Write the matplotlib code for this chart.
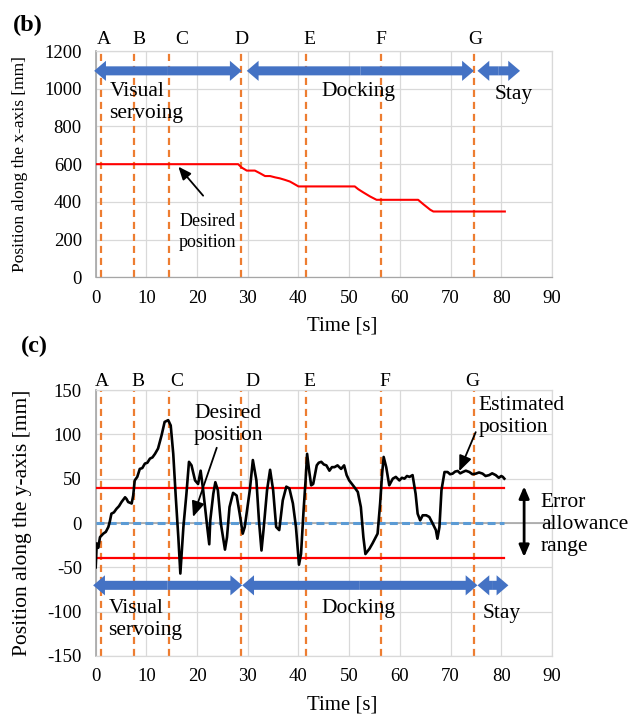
import matplotlib
matplotlib.use("Agg")
import matplotlib.pyplot as plt

plt.rcParams["font.family"] = ["Liberation Serif", "DejaVu Serif"]
plt.rcParams["axes.unicode_minus"] = False

# =====================================================
# Data
# =====================================================

event_labels = ["A", "B", "C", "D", "E", "F", "G"]
event_times = [1.0, 7.5, 14.4, 28.7, 41.4, 56.3, 74.6]

x_ticks = [0, 10, 20, 30, 40, 50, 60, 70, 80, 90]
b_y_ticks = [0, 200, 400, 600, 800, 1000, 1200]
c_y_ticks = [-150, -100, -50, 0, 50, 100, 150]

# (b) desired position along x
desired_x_t = [0, 26.5, 28.1, 28.8, 29.8, 31.4, 32.4, 33.4, 34.4, 35.4, 36.3,
               37.3, 38.3, 38.9, 40.0, 51.1, 51.8, 52.8, 54.1, 55.4, 63.6,
               64.6, 66.0, 66.6, 80.7]
desired_x_val = [600, 600, 600, 582, 566, 566, 552, 537, 537, 530, 525,
                 517, 508, 499, 482, 482, 467, 450, 429, 411, 411,
                 388, 358, 349, 349]

# (c) estimated position along y
est_y_t = [0.0, 0.1, 0.2, 0.5, 0.85, 1.5, 2.0, 2.5, 2.8, 3.1, 3.6, 4.1, 4.6,
           5.1, 5.8, 6.1, 6.4, 7.1, 7.4, 7.7, 8.2, 8.7, 9.2, 9.7, 10.2, 10.7,
           11.2, 11.7, 12.3, 13.0, 13.6, 14.3, 14.8, 15.3, 15.8, 16.3, 16.7,
           17.3, 17.9, 18.4, 18.9, 19.6, 20.2, 20.7, 21.2, 21.7, 22.0, 22.4,
           22.6, 23.2, 23.6, 24.1, 24.7, 25.5, 25.9, 26.4, 27.1, 27.8, 28.4,
           29.0, 29.4, 30.4, 31.0, 31.7, 32.2, 32.7, 33.1, 33.8, 34.4, 35.0,
           35.6, 36.2, 36.9, 37.6, 38.2, 38.9, 39.5, 40.1, 40.5, 41.0, 41.4,
           41.7, 42.1, 42.5, 42.9, 43.6, 44.0, 44.5, 45.0, 45.5, 46.1, 46.6,
           47.1, 47.7, 48.4, 49.0, 49.5, 50.0, 51.0, 51.7, 52.3, 52.8, 53.2,
           54.0, 54.6, 55.6, 56.1, 56.5, 56.8, 57.3, 57.9, 58.6, 59.2, 59.9,
           60.4, 60.9, 61.4, 61.9, 62.5, 63.1, 63.5, 64.0, 64.5, 65.2, 65.8,
           66.5, 67.1, 67.4, 67.8, 68.2, 68.8, 69.4, 69.9, 70.4, 70.9, 71.4,
           71.9, 72.4, 73.0, 73.7, 74.3, 75.0, 75.6, 76.3, 76.9, 77.6, 78.2,
           78.9, 79.5, 80.0, 80.3, 80.6]
est_y_val = [-50, -38, -23, -28, -16, -12, -10, -4.5, 2, 10.5, 12, 16, 19,
             23.7, 29, 27, 23.7, 22, 31, 48, 52, 61, 62, 67, 68, 72.6,
             74, 78, 84, 99, 114, 116, 110, 78, 29, -16, -57,
             -4.5, 33, 69, 65, 48, 44, 59, 37, 10.5, -4.5, -24,
             3, 33, 46, 37, -1, -30, -16, 18, 34, 31, 10.5,
             -12, -4.5, 37, 71, 48, 3, -31, -8, 37, 60, 37,
             -4.5, -8, 25.6, 41, 39, 22, -4.5, -47, -35, 14, 48,
             78, 59, 42.5, 44, 65, 68, 69, 66, 65, 59, 63,
             63, 65, 61, 65, 54, 48, 40.6, 35, 18, -16, -35,
             -29, -23, -12, 22, 56, 74.5, 63, 42.5, 50, 52, 48,
             51, 50, 53, 52, 54, 33, 10.5, 3, 8.7, 8.7, 6.8,
             -1, -8, -17.7, -4.5, 37, 57.5, 57.5, 55, 55.7, 58, 58.7,
             56, 57.5, 59, 57.5, 55, 55.7, 57, 55.7, 53, 54, 56,
             54, 51, 53, 52, 50]

allow_t = [0, 80.6]
allow_upper = [40, 40]
allow_lower = [-40, -40]
desired_y_val = [0, 0]

ORANGE = "#ED7D31"
BLUE = "#4472C4"
GRID = "#D9D9D9"
AXIS = "#A6A6A6"


# =====================================================
# Helpers
# =====================================================

def base_axes(ax, yticks):

    ax.set_xlim(0, 90)
    ax.set_ylim(yticks[0], yticks[-1])
    ax.set_xticks(x_ticks)
    ax.set_yticks(yticks)
    ax.tick_params(length=0, labelsize=13.5)
    ax.tick_params(axis="y", pad=10)
    ax.tick_params(axis="x", pad=9)
    ax.grid(True, color=GRID, lw=0.9)
    ax.set_axisbelow(True)
    for s in ax.spines.values():
        s.set_color(GRID)
        s.set_linewidth(0.9)
    ax.spines["left"].set_color(AXIS)
    ax.spines["left"].set_linewidth(1.2)


def event_lines(ax, label_x, label_y):

    for t in event_times:
        ax.axvline(t, color=ORANGE, lw=1.6, dashes=(3.2, 2.2), zorder=2)
    for lab, lx in zip(event_labels, label_x):
        ax.text(lx, label_y, lab, transform=ax.get_xaxis_transform(),
                ha="center", va="center", fontsize=14, clip_on=False)


def block_arrow(ax, x0, x1, y):

    mid = (x0 + x1) / 2
    style = "simple,head_length=8.5,head_width=14.5,tail_width=6.5"
    for end in (x0, x1):
        ax.annotate("", xy=(end, y), xytext=(mid, y),
                    arrowprops=dict(arrowstyle=style, color=BLUE,
                                    shrinkA=0, shrinkB=0, lw=0,
                                    mutation_scale=1),
                    annotation_clip=False, zorder=4)


# =====================================================
# (b) Position along x
# =====================================================

def panel_b(fig):

    ax = fig.add_axes([0.1495, 0.6127, 0.713, 0.316])
    base_axes(ax, b_y_ticks)
    ax.spines["bottom"].set_color(AXIS)

    event_lines(ax, [1.7, 8.6, 17.0, 28.8, 42.1, 56.2, 74.8], 1.05)

    ax.plot(desired_x_t, desired_x_val, color="red", lw=1.5, zorder=3)

    block_arrow(ax, -0.3, 28.8, 1095)
    block_arrow(ax, 29.8, 74.6, 1095)
    block_arrow(ax, 75.3, 83.7, 1095)

    ax.text(2.7, 928, "Visual\nservoing", fontsize=15.5, va="center",
            ha="left", linespacing=1.2)
    ax.text(51.8, 987, "Docking", fontsize=15.5, ha="center", va="center")
    ax.text(82.4, 972, "Stay", fontsize=15.5, ha="center", va="center")

    ax.annotate("Desired\nposition", xy=(16.3, 587), xytext=(22.1, 242),
                ha="center", va="center", fontsize=13, linespacing=1.3,
                arrowprops=dict(arrowstyle="-|>,head_length=0.6,head_width=0.25",
                                color="black", lw=1.3, shrinkA=0, shrinkB=0,
                                relpos=(0.42, 1.45)))

    ax.set_ylabel("Position along the x-axis [mm]", fontsize=12.5)
    ax.yaxis.set_label_coords(-0.148, 0.5)
    ax.set_xlabel("Time [s]", fontsize=15)
    ax.xaxis.set_label_coords(0.54, -0.215)
    ax.xaxis.label.set_va("center")

    fig.text(0.02, 0.965, "(b)", fontsize=17.5, fontweight="bold", va="center")


# =====================================================
# (c) Position along y
# =====================================================

def panel_c(fig):

    ax = fig.add_axes([0.1495, 0.0838, 0.713, 0.3715])
    base_axes(ax, c_y_ticks)
    ax.axhline(0, color=AXIS, lw=1.2, zorder=1)

    event_lines(ax, [1.2, 8.4, 15.9, 31.0, 42.1, 57.1, 74.3], 1.031)

    ax.plot(allow_t, allow_upper, color="red", lw=1.6, zorder=3)
    ax.plot(allow_t, allow_lower, color="red", lw=1.6, zorder=3)
    ax.plot(allow_t, desired_y_val, color="#5B9BD5", lw=2.2,
            dashes=(2.6, 1.4), zorder=3)
    ax.plot(est_y_t, est_y_val, color="black", lw=1.9, zorder=5)

    block_arrow(ax, -0.5, 28.9, -70.3)
    block_arrow(ax, 28.9, 75.3, -70.3)
    block_arrow(ax, 75.3, 81.4, -70.3)

    ax.text(2.5, -109, "Visual\nservoing", fontsize=15.5, va="center",
            ha="left", linespacing=1.2)
    ax.text(51.9, -96.6, "Docking", fontsize=15.5, ha="center", va="center")
    ax.text(80.1, -102, "Stay", fontsize=15.5, ha="center", va="center")

    ax.annotate("Desired\nposition", xy=(19.2, 6.8), xytext=(19.4, 111),
                ha="left", va="center", fontsize=15.5, linespacing=1.2,
                arrowprops=dict(arrowstyle="-|>,head_length=0.6,head_width=0.25",
                                color="black", lw=1.3, shrinkA=0, shrinkB=0,
                                relpos=(0.33, -0.05)))

    ax.annotate("Estimated\nposition", xy=(71.7, 58.4), xytext=(75.5, 120),
                ha="left", va="center", fontsize=15.5, linespacing=1.2,
                arrowprops=dict(arrowstyle="-|>,head_length=0.6,head_width=0.25",
                                color="black", lw=1.3, shrinkA=0, shrinkB=0,
                                relpos=(-0.02, 0.18)), zorder=6)

    ax.annotate("", xy=(84.5, 41.4), xytext=(84.5, -38.4),
                arrowprops=dict(arrowstyle="<|-|>,head_length=0.7,head_width=0.3",
                                color="black", lw=2, shrinkA=0, shrinkB=0),
                annotation_clip=False)
    ax.text(87.8, -2, "Error\nallowance\nrange", fontsize=15.5, ha="left",
            va="center", linespacing=1.2, clip_on=False)

    ax.set_ylabel("Position along the y-axis [mm]", fontsize=15.5)
    ax.yaxis.set_label_coords(-0.14, 0.5)
    ax.set_xlabel("Time [s]", fontsize=15)
    ax.xaxis.set_label_coords(0.54, -0.184)
    ax.xaxis.label.set_va("center")

    fig.text(0.033, 0.516, "(c)", fontsize=17.5, fontweight="bold", va="center")


# =====================================================
# Main
# =====================================================

def main():

    fig = plt.figure(figsize=(6.4, 7.16), dpi=100)

    panel_b(fig)
    panel_c(fig)

    fig.savefig("out.png", dpi=100, facecolor="white")
    plt.close(fig)


if __name__ == "__main__":
    main()
